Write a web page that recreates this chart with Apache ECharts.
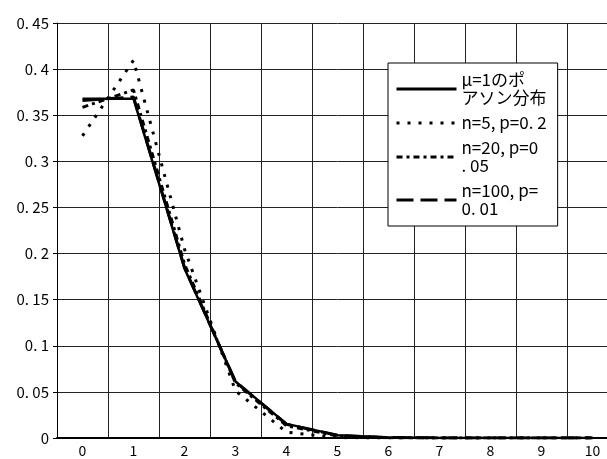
<!DOCTYPE html>
<html><head><meta charset="utf-8">
<script src="https://cdn.jsdelivr.net/npm/echarts@6/dist/echarts.min.js"></script>
<style>html,body{margin:0;padding:0;background:#fff;overflow:hidden;width:607px;height:459px}#c{width:618px;height:459px}</style>
</head><body><div id="c"></div>
<script>
const categories = ['0','1','2','3','4','5','6','7','8','9','10'];
const yTickLabels = ['0','0. 05','0. 1','0. 15','0. 2','0. 25','0. 3','0. 35','0. 4','0. 45'];
const seriesNames = ['μ=1のポ\nアソン分布', 'n=5, p=0. 2', 'n=20, p=0\n. 05', 'n=100, p=\n0. 01'];
const poisson = [0.3679, 0.3679, 0.1839, 0.0613, 0.0153, 0.0031, 0.0005, 0.0001, 0.0000, 0.0000, 0.0000];
const binom5 = [0.3277, 0.4096, 0.2048, 0.0512, 0.0064, 0.0003, 0, 0, 0, 0, 0];
const binom20 = [0.3585, 0.3774, 0.1887, 0.0596, 0.0133, 0.0022, 0.0003, 0.0000, 0, 0, 0];
const binom100 = [0.3660, 0.3697, 0.1849, 0.0610, 0.0149, 0.0029, 0.0005, 0.0001, 0.0000, 0, 0];

const FONT = '"Noto Sans CJK JP", "Noto Sans", sans-serif';
const styles = [
  {type: 'solid', width: 2.5},
  {type: [3, 8], width: 3},
  {type: [6, 4, 3, 4], width: 3},
  {type: [17, 7], width: 3}
];
const chart = echarts.init(document.getElementById('c'), null, {renderer: 'canvas'});
function mk(i, data) {
  return {
    name: seriesNames[i], type: 'line', data: data, symbol: 'none', animation: false,
    lineStyle: {color: '#000', width: styles[i].width, type: styles[i].type, cap: 'butt'},
    itemStyle: {color: '#000'}
  };
}
chart.setOption({
  animation: false,
  backgroundColor: '#fff',
  grid: {left: 57, top: 23, right: 0, bottom: 21, containLabel: false},
  xAxis: {
    type: 'category', data: categories, boundaryGap: true,
    axisLine: {lineStyle: {color: '#000', width: 2}},
    axisTick: {show: false},
    splitLine: {show: true, interval: 0, lineStyle: {color: '#222', width: 1}},
    axisLabel: {color: '#000', fontSize: 14, fontFamily: FONT, margin: 6, interval: 0}
  },
  yAxis: {
    type: 'value', min: 0, max: 0.45, interval: 0.05,
    axisLine: {show: true, lineStyle: {color: '#000', width: 1}},
    axisTick: {show: true, length: 4, lineStyle: {color: '#000'}},
    splitLine: {show: true, lineStyle: {color: '#222', width: 1}},
    axisLabel: {color: '#000', fontSize: 15, fontFamily: FONT, margin: 8,
      formatter: function (v) { return yTickLabels[Math.round(v / 0.05)]; }}
  },
  legend: {
    orient: 'vertical', left: 388, top: 63,
    backgroundColor: '#fff', borderColor: '#000', borderWidth: 1,
    padding: [8, 11, 8, 7], itemGap: 7, itemWidth: 60, itemHeight: 14,
    textStyle: {color: '#000', fontSize: 17, fontFamily: FONT, lineHeight: 18},
    itemStyle: {color: 'rgba(0,0,0,0)', borderWidth: 0, opacity: 0},
    data: seriesNames.map(function (n, i) {
      return {name: n, itemStyle: {opacity: 0},
        lineStyle: {color: '#000', width: 3, type: styles[i].type, cap: 'butt'}};
    })
  },
  series: [
    mk(0, poisson),
    mk(1, binom5),
    mk(2, binom20),
    mk(3, binom100)
  ]
});
</script></body></html>
